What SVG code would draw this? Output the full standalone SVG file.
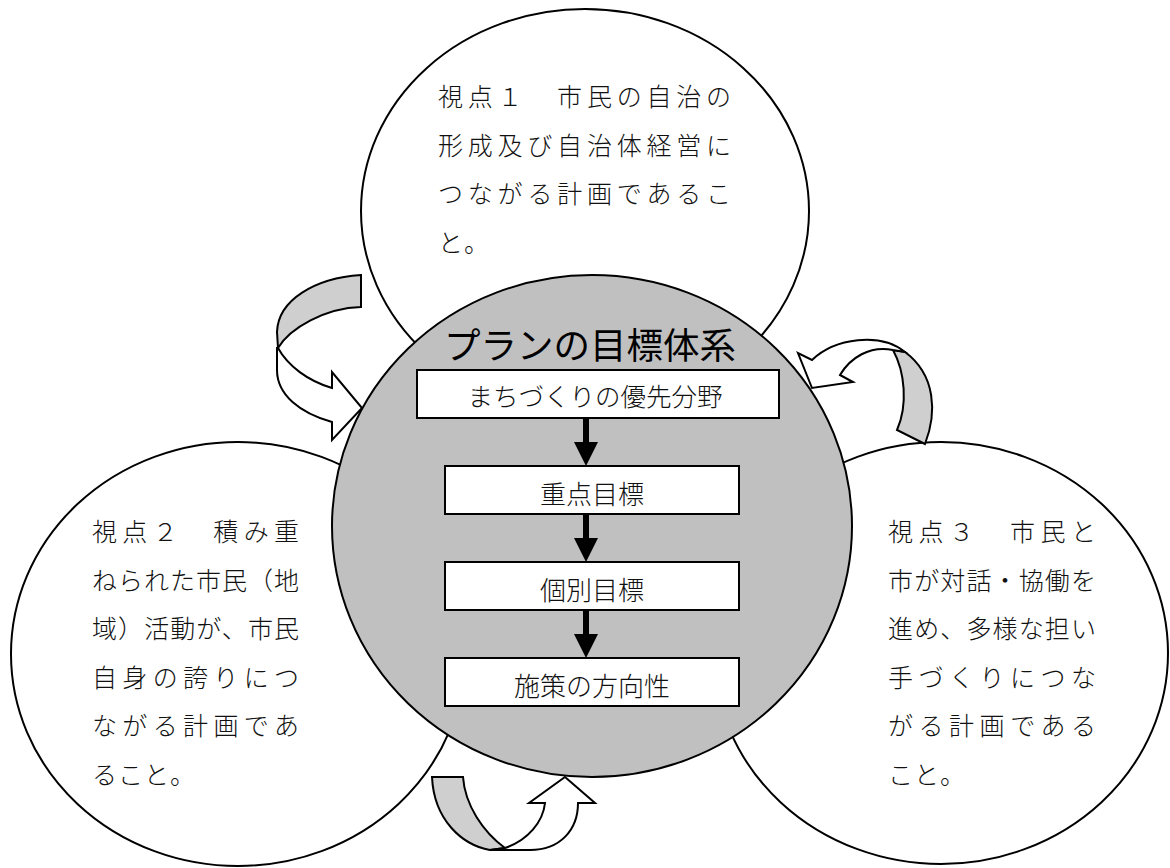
<svg xmlns="http://www.w3.org/2000/svg" width="1170" height="868" viewBox="0 0 1170 868">
<style>
.bub{fill:#fff;stroke:#000;stroke-width:2}
.core{fill:#c0c0c0;stroke:#000;stroke-width:2}
.box{fill:#fff;stroke:#000;stroke-width:2}
.back{fill:#cfcfcf;stroke:#000;stroke-width:2;stroke-linejoin:miter}
.front{fill:#fff;stroke:#000;stroke-width:2;stroke-linejoin:miter}
.flow{fill:#000;stroke:none}
.t{font-family:"Noto Sans CJK JP","Noto Sans CJK SC",sans-serif;font-size:25px;font-weight:300;fill:#111}
.last{letter-spacing:1px}
.title{font-family:"Noto Sans CJK JP","Noto Sans CJK SC",sans-serif;font-size:36.5px;fill:#000;text-anchor:middle}
.bt{font-family:"Noto Sans CJK JP","Noto Sans CJK SC",sans-serif;font-size:26px;font-weight:300;fill:#111;text-anchor:middle}
</style>
<rect width="1170" height="868" fill="#fff"/>

<g id="view1">
<ellipse class="bub" cx="585" cy="211" rx="224" ry="202"/>
<text class="t" x="438" y="106" textLength="293" lengthAdjust="spacing">視点１　市民の自治の</text>
<text class="t" x="438" y="154.5" textLength="293" lengthAdjust="spacing">形成及び自治体経営に</text>
<text class="t" x="438" y="203" textLength="293" lengthAdjust="spacing">つながる計画であるこ</text>
<text class="t last" x="438" y="251.5">と。</text>
</g>

<g id="view2">
<ellipse class="bub" cx="238" cy="654" rx="227" ry="212"/>
<text class="t" x="92" y="541" textLength="207" lengthAdjust="spacing">視点２　積み重</text>
<text class="t" x="92" y="589.5" textLength="207" lengthAdjust="spacing">ねられた市民（地</text>
<text class="t" x="92" y="638" textLength="207" lengthAdjust="spacing">域）活動が、市民</text>
<text class="t" x="92" y="686.5" textLength="207" lengthAdjust="spacing">自身の誇りにつ</text>
<text class="t" x="92" y="735" textLength="207" lengthAdjust="spacing">ながる計画であ</text>
<text class="t last" x="92" y="783.5">ること。</text>
</g>

<g id="view3">
<ellipse class="bub" cx="941" cy="653" rx="227" ry="211"/>
<text class="t" x="888" y="541" textLength="208" lengthAdjust="spacing">視点３　市民と</text>
<text class="t" x="888" y="589.5" textLength="208" lengthAdjust="spacing">市が対話・協働を</text>
<text class="t" x="888" y="638" textLength="208" lengthAdjust="spacing">進め、多様な担い</text>
<text class="t" x="888" y="686.5" textLength="208" lengthAdjust="spacing">手づくりにつな</text>
<text class="t" x="888" y="735" textLength="208" lengthAdjust="spacing">がる計画である</text>
<text class="t last" x="888" y="783.5">こと。</text>
</g>

<g id="core">
<ellipse class="core" cx="592" cy="526" rx="260" ry="251"/>
<text class="title" x="590" y="359">プランの目標体系</text>
</g>

<g id="box1">
<rect class="box" x="417" y="370" width="362" height="48"/>
<text class="bt" x="595" y="406" style="font-size:25.5px">まちづくりの優先分野</text>
</g>
<g id="box2">
<rect class="box" x="445" y="466" width="294" height="48"/>
<text class="bt" x="592" y="504">重点目標</text>
</g>
<g id="box3">
<rect class="box" x="445" y="562" width="294" height="48"/>
<text class="bt" x="592" y="600">個別目標</text>
</g>
<g id="box4">
<rect class="box" x="445" y="658" width="294" height="48"/>
<text class="bt" x="592" y="696">施策の方向性</text>
</g>

<g id="connectors">
<path class="flow" d="M583,419 H589 V442 H598 L586,466 L574,442 H583 Z"/>
<path class="flow" d="M583,515 H589 V538 H598 L586,562 L574,538 H583 Z"/>
<path class="flow" d="M583,611 H589 V634 H598 L586,658 L574,634 H583 Z"/>

<g id="cycle1">
<path class="back" d="M361,275 C315,278 278,300 277,332 L278,348 C290,328 325,308 361,307 Z"/>
<path class="front" d="M278,348 C288,366 308,381 332,388 L332,372 L362,408 L332,440 L332,422 C300,413 277,395 277,370 L277,348 Z"/>
</g>
<g id="cycle2">
<path class="back" d="M893,350 C905,372 908,405 897,430 L925,444 C937,413 936,375 905,352 Z"/>
<path class="front" d="M812,360 C835,338 880,332 905,352 L893,350 C870,345 850,358 840,375 L853,382 L812,388 L798,353 Z"/>
</g>
<g id="cycle3">
<path class="back" d="M432,777 L463,777 C465,805 483,832 505,848 L490,850 C462,845 434,820 432,777 Z"/>
<path class="front" d="M490,850 L530,850 C560,850 578,830 578,803 L595,803 L565,777 L529,803 L545,803 C543,822 528,840 505,848 Z"/>
</g>
</g>
</svg>
